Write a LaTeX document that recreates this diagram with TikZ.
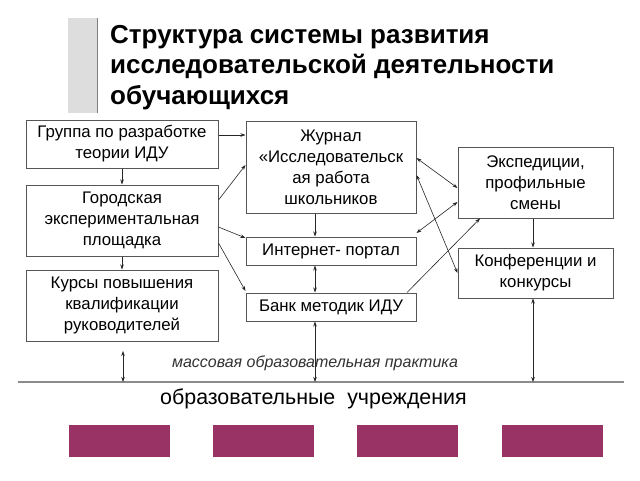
\documentclass[tikz,border=0pt]{standalone}
\usepackage{fontspec}
\setmainfont{Liberation Sans}
\usetikzlibrary{arrows.meta,calc}
\definecolor{boxline}{HTML}{555555}
\definecolor{barfill}{HTML}{DDDDDD}
\definecolor{barline}{HTML}{7F7F7F}
\definecolor{magent}{HTML}{993366}
\definecolor{hline}{HTML}{8C8C8C}
\begin{document}
\begin{tikzpicture}[x=1pt,y=-1pt,
  box/.style={draw=boxline,line width=1pt,rectangle,inner sep=0pt,align=center,
    font=\fontsize{16.8}{21}\selectfont},
  arr/.style={draw=black!85,line width=0.6pt,-{Stealth[length=5pt,width=3.5pt]}},
  darr/.style={draw=black!85,line width=0.6pt,{Stealth[length=5pt,width=3.5pt]}-{Stealth[length=5pt,width=3.5pt]}},
  inst/.style={fill=magent,draw=none,minimum width=101pt,minimum height=32pt,inner sep=0pt}]
\useasboundingbox (0,0) rectangle (640,480);
\fill[white] (0,0) rectangle (640,480);
% title bar
\fill[barfill] (68,18) rectangle (97,113);
\draw[barline,line width=1.5pt] (97.5,18) -- (97.5,113);
\node[anchor=base west,align=left,inner sep=0pt,font=\fontsize{26}{30.5}\selectfont\bfseries] (title) at (110,104)
 {Структура системы развития\\исследовательской деятельности\\обучающихся};
% boxes
\node[box,minimum width=192pt,minimum height=48pt] (grp) at (122,144) {Группа по разработке\\теории ИДУ};
\node[box,minimum width=192pt,minimum height=71pt] (gor) at (122,220.5) {Городская\\экспериментальная\\площадка};
\node[box,minimum width=192pt,minimum height=71pt] (kur) at (122,305.5) {Курсы повышения\\квалификации\\руководителей};
\node[box,minimum width=170pt,minimum height=92pt] (jur) at (331,167) {Журнал\\«Исследовательск\\ая работа\\школьников};
\node[box,minimum width=170pt,minimum height=28pt] (int) at (331,251) {Интернет- портал};
\node[box,minimum width=170pt,minimum height=28pt] (bank) at (331,307) {Банк методик ИДУ};
\node[box,minimum width=155pt,minimum height=71pt] (exp) at (535.5,182.5) {Экспедиции,\\профильные\\смены};
\node[box,minimum width=155pt,minimum height=50pt] (kon) at (535.5,273) {Конференции и\\конкурсы};
% base line and institutions
\coordinate (hlA) at (18,382);
\coordinate (hlB) at (624,382);
\draw[hline,line width=1.6pt] (hlA) -- (hlB);
\node[font=\fontsize{16}{18}\selectfont\itshape,text=black!80,inner sep=0pt] (mass) at (315,363) {массовая образовательная практика};
\node[font=\fontsize{21.4}{24}\selectfont,inner sep=0pt] (ou) at (313.5,399) {образовательные\ \ учреждения};
\node[inst] (i1) at (119.5,441) {};
\node[inst] (i2) at (263.5,441) {};
\node[inst] (i3) at (407.5,441) {};
\node[inst] (i4) at (552,441) {};
% connectors
\draw[arr] (grp.east |- 0,135) -- (jur.west |- 0,135);
\draw[arr] (grp.south) -- (gor.north);
\draw[arr] (gor.south) -- (kur.north);
\draw[arr] (gor.east |- 0,200) -- (jur.west |- 0,165);
\draw[arr] (gor.east |- 0,227) -- (int.west |- 0,238);
\draw[arr] (gor.east |- 0,243) -- (bank.west |- 0,291);
\draw[arr] (jur.south -| 315,0) -- (int.north -| 315,0);
\draw[darr] (int.south -| 315,0) -- (bank.north -| 315,0);
\draw[darr] (jur.east |- 0,158) -- (exp.west |- 0,188);
\draw[darr] (exp.west |- 0,202) -- (int.east |- 0,233);
\draw[darr] (jur.east |- 0,175) -- (kon.west |- 0,273);
\draw[arr] (bank.north -| 407,0) -- (exp.south -| 480,0);
\draw[arr] (exp.south -| 533,0) -- (kon.north -| 533,0);
\coordinate (kurA) at (123,351);
\draw[darr] (kurA) -- (kurA |- hlA);
\draw[darr] (bank.south -| 315,0) -- (hlA -| 315,0);
\draw[darr] (kon.south -| 533,0) -- (hlA -| 533,0);
\end{tikzpicture}
\end{document}
